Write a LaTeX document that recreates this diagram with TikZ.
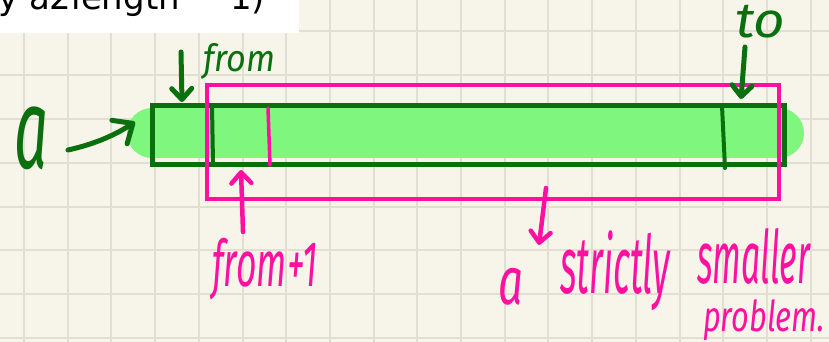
\documentclass[tikz,border=0pt]{standalone}
\usepackage{fontspec}
\usepackage{graphicx}
\usetikzlibrary{arrows.meta}
\newfontfamily\handfont{Fira Sans}
\newfontfamily\uifont{DejaVu Sans}
\definecolor{paper}{RGB}{247,245,234}
\definecolor{gridline}{RGB}{226,223,210}
\definecolor{ink}{RGB}{10,112,14}
\definecolor{hilite}{RGB}{124,247,122}
\definecolor{pinkpen}{RGB}{255,16,160}

\begin{document}
\begin{tikzpicture}[x=1pt,y=-1pt,
  greenpen/.style={draw=ink,line width=5pt,line cap=round,line join=round},
  pinkpen/.style={draw=pinkpen,line width=4.5pt,line cap=round,line join=round},
  barb/.style={-{Straight Barb[length=11pt,width=20pt,line cap=round,line join=round]}},
  bigbarb/.style={-{Straight Barb[length=16pt,width=28pt,line cap=round,line join=round]}},
  hand/.style={inner sep=0pt,anchor=north west,font=\handfont\itshape},
]
\useasboundingbox (0,0) rectangle (829,342);
\clip (0,0) rectangle (829,342);
\fill[paper] (0,0) rectangle (829,342);

% squared paper
\foreach \i in {0,...,18}
  \draw[gridline,line width=2pt] ({24+43.7*\i},0) -- ({24+43.7*\i},342);
\foreach \j in {0,...,7}
  \draw[gridline,line width=2pt] (0,{31.3+43.8*\j}) -- (829,{31.3+43.8*\j});

% strip of code text along the top edge
\fill[white] (0,0) rectangle (299,33);
\node[anchor=base west,inner sep=0pt,font=\uifont\fontsize{34}{40}\selectfont] (hdr) at (-2,10) {y a2length − 1)};

% highlighted array
\draw[hilite,opacity=0.97,line width=50pt,line cap=round] (152,133) -- (779,133);
\node[draw=ink,line width=5pt,minimum width=632pt,minimum height=58pt,inner sep=0pt] (arr) at (468,135) {};
\draw[greenpen,line width=4pt] (212,106) -- (213,163);
\draw[greenpen,line width=4pt] (722,106) -- (725,168);

% subarray
\node[draw=pinkpen,line width=4.5pt,minimum width=572pt,minimum height=114pt,inner sep=0pt] (sub) at (493,142) {};
\draw[pinkpen,line width=3.5pt] (268,108) -- (270,165);

% green labels
\node[hand,text=ink] (alab) at (14,107) {\resizebox*{34pt}{63pt}{a}};
\node[hand,text=ink] (fromlab) at (203,43) {\resizebox*{72pt}{36pt}{from}};
\node[hand,text=ink] (tolab) at (735,5) {\resizebox*{50pt}{33pt}{to}};

% pink labels
\node[hand,text=pinkpen] (nextlab) at (212,238) {\resizebox*{105pt}{62pt}{from+1}};
\node[hand,text=pinkpen] (w1) at (498,268) {\resizebox*{25pt}{37pt}{a}};
\node[hand,text=pinkpen] (w2) at (560,230) {\resizebox*{110pt}{80pt}{strictly}};
\node[hand,text=pinkpen] (w3) at (697,228) {\resizebox*{113pt}{56pt}{smaller}};
\node[hand,text=pinkpen] (w4) at (703,299) {\resizebox*{122pt}{41pt}{problem.}};

% arrows
\coordinate (fromtail) at (181,52);
\coordinate (fromhead) at (182,102);
\coordinate (atail) at (68,150);
\coordinate (ahead) at (135,122);
\coordinate (totail) at (745,47);
\coordinate (tohead) at (741,99);
\coordinate (nexttail) at (243,232);
\coordinate (nexthead) at (241,170);
\coordinate (subtail) at (546,188);
\coordinate (subhead) at (539,245);

\draw[greenpen,barb] (fromtail) -- (fromhead);
\draw[greenpen,bigbarb] (atail) .. controls (95,144) and (115,135) .. (ahead);
\draw[greenpen,barb] (totail) -- (tohead);
\draw[pinkpen,barb] (nexttail) -- (nexthead);
\draw[pinkpen,barb] (subtail) -- (subhead);
\end{tikzpicture}
\end{document}
